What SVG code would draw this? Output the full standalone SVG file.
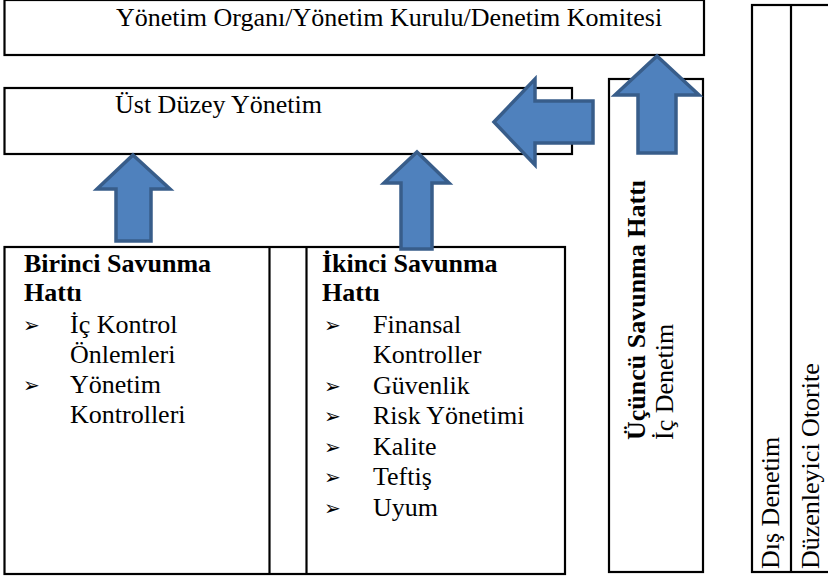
<svg xmlns="http://www.w3.org/2000/svg" width="828" height="578" viewBox="0 0 828 578">
<style>
.box{fill:#fff;stroke:#000;stroke-width:2.2}
.ln{stroke:#000;stroke-width:2.2}
.arr{fill:#4F81BD;stroke:#385D8A;stroke-width:3.5;stroke-linejoin:miter}
.t{font-family:"Liberation Serif","Times New Roman",serif;font-size:26px;fill:#000}
.b{font-weight:bold}
.bul{font-family:"DejaVu Sans",sans-serif;font-size:20px;fill:#000}
</style>
<rect width="828" height="578" fill="#fff"/>
<g id="board">
<rect class="box" x="4.5" y="0" width="699.5" height="55"/>
<text class="t" x="116" y="26">Yönetim Organı/Yönetim Kurulu/Denetim Komitesi</text>
</g>
<g id="senior">
<rect class="box" x="4.5" y="88" width="567.5" height="66"/>
<text class="t" x="115" y="113">Üst Düzey Yönetim</text>
</g>
<g id="third-line">
<rect class="box" x="609" y="79" width="94" height="493"/>
<text class="t b" transform="translate(645,440) rotate(-90)">Üçüncü Savunma Hattı</text>
<text class="t" transform="translate(673,440) rotate(-90)">İç Denetim</text>
</g>
<g id="external">
<rect class="box" x="752" y="5" width="90" height="567"/>
<line class="ln" x1="791" y1="5" x2="791" y2="572"/>
<text class="t" transform="translate(779,569) rotate(-90)">Dış Denetim</text>
<text class="t" transform="translate(819,569) rotate(-90)">Düzenleyici Otorite</text>
</g>
<g id="lines-frame">
<rect class="box" x="4.5" y="247" width="560.5" height="327"/>
<line class="ln" x1="269.5" y1="247" x2="269.5" y2="574"/>
<line class="ln" x1="306.5" y1="247" x2="306.5" y2="574"/>
</g>
<g id="first-line">
<text class="t b" x="24" y="272">Birinci Savunma</text>
<text class="t b" x="24" y="301">Hattı</text>
<text class="bul" x="23" y="332">➢</text>
<text class="t" x="70" y="333">İç Kontrol</text>
<text class="t" x="70" y="363">Önlemleri</text>
<text class="bul" x="23" y="392">➢</text>
<text class="t" x="70" y="393">Yönetim</text>
<text class="t" x="70" y="423">Kontrolleri</text>
</g>
<g id="second-line">
<text class="t b" x="322" y="272">İkinci Savunma</text>
<text class="t b" x="322" y="301">Hattı</text>
<text class="bul" x="324" y="332">➢</text>
<text class="t" x="373" y="333">Finansal</text>
<text class="t" x="373" y="363">Kontroller</text>
<text class="bul" x="324" y="393">➢</text>
<text class="t" x="373" y="394">Güvenlik</text>
<text class="bul" x="324" y="423">➢</text>
<text class="t" x="373" y="424">Risk Yönetimi</text>
<text class="bul" x="324" y="454">➢</text>
<text class="t" x="373" y="455">Kalite</text>
<text class="bul" x="324" y="484">➢</text>
<text class="t" x="373" y="485">Teftiş</text>
<text class="bul" x="324" y="515">➢</text>
<text class="t" x="373" y="516">Uyum</text>
</g>
<g id="connectors">
<path class="arr" d="M133,155 L170,189 L151,189 L151,241 L116,241 L116,189 L97,189 Z"/>
<path class="arr" d="M417,152 L449,183 L432,183 L432,249 L401,249 L401,183 L384,183 Z"/>
<path class="arr" d="M494,122 L535,79 L535,101 L593,101 L593,143 L535,143 L535,165 Z"/>
<path class="arr" d="M657,56 L699,95 L676,95 L676,153 L638,153 L638,95 L615,95 Z"/>
</g>
</svg>
